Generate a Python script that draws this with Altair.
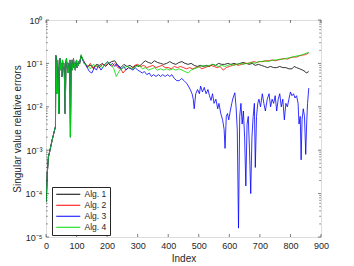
import altair as alt
import pandas as pd

# shared beginning (all four algorithms coincide)
early_idx = [1, 4, 8, 13, 20, 28, 31, 32, 33, 35, 36, 38, 40, 42, 44, 46, 48, 50, 52, 54, 56, 58, 60, 63,
             65, 67, 69, 71, 73, 75, 78, 80, 82, 84, 86, 88, 90, 92, 94, 96, 98, 100, 102, 104, 106, 108,
             110, 112]
early_val = [6.5e-5, 2.9e-4, 7e-4, 1e-3, 1.7e-3, 2.9e-3, 3.5e-3, 0.15, 0.15, 0.02, 0.1, 0.12, 0.05, 0.007,
             0.08, 0.13, 0.07, 0.1, 0.05, 0.12, 0.08, 0.1, 0.06, 0.007, 0.1, 0.13, 0.08, 0.1, 0.06, 0.09,
             0.12, 0.002, 0.1, 0.12, 0.07, 0.1, 0.13, 0.08, 0.1, 0.07, 0.1, 0.12, 0.08, 0.1, 0.09, 0.11,
             0.1, 0.12]

alg1_idx = [115, 125, 135, 145, 155, 165, 175, 185, 195, 205, 215, 225, 235, 245, 255, 265, 275, 285, 295,
            305, 315, 325, 335, 345, 355, 365, 375, 385, 395, 405, 415, 425, 435, 445, 455, 465, 475, 485,
            495, 505, 515, 525, 535, 545, 555, 565, 575, 585, 595, 605, 615, 625, 635, 645, 655, 665, 675,
            685, 695, 705, 715, 725, 735, 745, 755, 765, 775, 785, 795, 805, 812, 820, 830, 840, 848, 852, 860]
alg1_val = [0.15, 0.1, 0.085, 0.09, 0.08, 0.095, 0.09, 0.1, 0.085, 0.1, 0.11, 0.115, 0.09, 0.08, 0.095,
            0.085, 0.09, 0.08, 0.09, 0.085, 0.1, 0.115, 0.105, 0.1, 0.115, 0.105, 0.1, 0.095, 0.1, 0.11,
            0.1, 0.095, 0.105, 0.11, 0.1, 0.095, 0.1, 0.09, 0.085, 0.09, 0.085, 0.09, 0.085, 0.095, 0.09,
            0.1, 0.095, 0.095, 0.1, 0.095, 0.1, 0.095, 0.1, 0.105, 0.1, 0.095, 0.1, 0.09, 0.095, 0.09,
            0.085, 0.08, 0.085, 0.08, 0.08, 0.085, 0.08, 0.08, 0.075, 0.075, 0.085, 0.08, 0.075, 0.07,
            0.065, 0.06, 0.065]

alg2_idx = [115, 125, 135, 145, 155, 165, 175, 185, 195, 205, 215, 225, 235, 245, 252, 260, 270, 280, 290,
            300, 310, 320, 330, 340, 350, 360, 370, 380, 390, 400, 410, 420, 430, 440, 450, 460, 470, 480,
            490, 500, 510, 520, 530, 540, 550, 560, 570, 580, 590, 600, 610, 620, 630, 640, 650, 660, 670,
            680, 690, 700, 710, 720, 730, 740, 750, 760, 770, 780, 790, 800, 810, 820, 830, 840, 850, 860]
alg2_val = [0.15, 0.11, 0.08, 0.1, 0.075, 0.09, 0.08, 0.095, 0.09, 0.1, 0.085, 0.1, 0.08, 0.075, 0.06,
            0.07, 0.08, 0.075, 0.09, 0.095, 0.085, 0.09, 0.08, 0.085, 0.09, 0.08, 0.085, 0.09, 0.08, 0.08,
            0.075, 0.085, 0.08, 0.085, 0.08, 0.075, 0.08, 0.075, 0.08, 0.085, 0.075, 0.08, 0.085, 0.09,
            0.085, 0.08, 0.085, 0.07, 0.08, 0.085, 0.09, 0.095, 0.09, 0.095, 0.1, 0.1, 0.105, 0.11, 0.105,
            0.11, 0.11, 0.115, 0.115, 0.12, 0.115, 0.12, 0.125, 0.13, 0.125, 0.135, 0.14, 0.14, 0.15,
            0.155, 0.16, 0.175]

alg3_idx = [115, 120, 128, 135, 142, 150, 158, 165, 172, 180, 188, 195, 202, 210, 218, 225, 232, 240, 248,
            255, 262, 270, 278, 285, 292, 300, 308, 315, 322, 330, 338, 345, 352, 360, 368, 375, 382, 390,
            398, 405, 412, 420, 428, 436, 444, 452, 460, 466, 472, 478, 482, 485, 490, 496, 502, 506, 512,
            518, 524, 530, 535, 540, 545, 550, 556, 562, 566, 572, 578, 583, 586, 590, 594, 598, 603, 608,
            612, 618, 622, 626, 630, 634, 638, 642, 646, 650, 654, 658, 662, 666, 670, 674, 678, 682, 685,
            689, 693, 697, 702, 708, 713, 718, 724, 730, 735, 740, 745, 750, 755, 760, 765, 770, 775, 780,
            785, 790, 795, 800, 805, 810, 815, 820, 825, 828, 832, 835, 838, 842, 846, 850, 853, 856, 860]
alg3_val = [0.15, 0.12, 0.1, 0.08, 0.065, 0.06, 0.08, 0.07, 0.09, 0.07, 0.085, 0.1, 0.11, 0.09, 0.1,
            0.085, 0.095, 0.08, 0.075, 0.085, 0.07, 0.08, 0.075, 0.07, 0.08, 0.07, 0.065, 0.06, 0.065,
            0.055, 0.06, 0.05, 0.055, 0.05, 0.055, 0.05, 0.055, 0.05, 0.055, 0.05, 0.055, 0.045, 0.04,
            0.04, 0.045, 0.04, 0.035, 0.03, 0.025, 0.02, 0.015, 0.009, 0.02, 0.025, 0.02, 0.03, 0.022,
            0.028, 0.02, 0.025, 0.018, 0.014, 0.02, 0.012, 0.015, 0.009, 0.012, 0.007, 0.005, 0.003,
            0.0011, 0.006, 0.007, 0.005, 0.008, 0.012, 0.016, 0.021, 0.01, 0.003, 1.6e-5, 0.006, 0.012,
            0.004, 0.008, 0.002, 1.5e-4, 0.004, 0.006, 0.001, 1e-4, 0.002, 0.006, 0.012, 4e-4, 0.006,
            0.012, 0.015, 0.01, 0.02, 0.012, 0.008, 0.015, 0.02, 0.01, 0.015, 0.012, 0.018, 0.008, 0.015,
            0.02, 0.01, 0.015, 0.005, 0.012, 0.01, 0.015, 0.022, 0.018, 0.02, 0.016, 0.018, 0.012, 0.004,
            0.006, 6e-4, 0.005, 0.009, 0.006, 8e-4, 0.004, 0.012, 0.027]

alg4_idx = [115, 125, 135, 145, 155, 165, 175, 185, 195, 205, 215, 222, 230, 236, 245, 255, 265, 275, 285,
            295, 305, 315, 325, 335, 345, 355, 365, 375, 385, 395, 405, 415, 425, 435, 445, 455, 465, 475,
            485, 495, 505, 515, 525, 535, 545, 555, 565, 575, 585, 595, 605, 615, 625, 635, 645, 655, 665,
            675, 685, 695, 705, 715, 725, 735, 745, 755, 765, 775, 785, 795, 805, 815, 825, 835, 845, 855, 860]
alg4_val = [0.16, 0.1, 0.09, 0.075, 0.095, 0.085, 0.09, 0.08, 0.1, 0.105, 0.09, 0.075, 0.05, 0.06, 0.075,
            0.08, 0.085, 0.08, 0.075, 0.085, 0.09, 0.075, 0.08, 0.07, 0.075, 0.08, 0.07, 0.075, 0.07, 0.075,
            0.07, 0.075, 0.07, 0.075, 0.07, 0.065, 0.06, 0.07, 0.075, 0.08, 0.085, 0.09, 0.085, 0.09, 0.095,
            0.09, 0.085, 0.09, 0.085, 0.09, 0.095, 0.09, 0.095, 0.1, 0.095, 0.1, 0.1, 0.105, 0.1, 0.11,
            0.11, 0.115, 0.11, 0.115, 0.12, 0.12, 0.125, 0.125, 0.13, 0.135, 0.14, 0.145, 0.15, 0.155,
            0.165, 0.175, 0.18]

series_names = ["Alg. 1", "Alg. 2", "Alg. 3", "Alg. 4"]
series_colors = ["#000000", "#ff0000", "#0000ff", "#00dd00"]
x_ticks = [0, 100, 200, 300, 400, 500, 600, 700, 800, 900]
y_ticks = [1e-5, 1e-4, 1e-3, 1e-2, 1e-1, 1]
y_minor = [m * d for d in [1e-5, 1e-4, 1e-3, 1e-2, 1e-1] for m in range(2, 10)]

rows = []
for name, ix, vv in zip(series_names,
                        [alg1_idx, alg2_idx, alg3_idx, alg4_idx],
                        [alg1_val, alg2_val, alg3_val, alg4_val]):
    for i, v in zip(early_idx + ix, early_val + vv):
        rows.append({"Index": i, "err": v, "alg": name})
df = pd.DataFrame(rows)

W, H = 275, 217
FONT = "Liberation Sans"
GREY = "#262626"

xs = alt.Scale(domain=[0, 900], nice=False)
ys = alt.Scale(type="log", domain=[1e-5, 1], nice=False)
cs = alt.Scale(domain=series_names, range=series_colors)

label_expr = ("datum.value >= 1 ? '10⁰' : datum.value >= 0.1 ? '10⁻¹' : datum.value >= 0.01 ? '10⁻²' : "
              "datum.value >= 0.001 ? '10⁻³' : datum.value >= 0.0001 ? '10⁻⁴' : '10⁻⁵'")

common = dict(grid=False, ticks=False, domain=False, labelFont=FONT, titleFont=FONT,
              labelFontSize=9, titleFontSize=10, labelColor=GREY, titleColor=GREY,
              labelFontWeight="normal", titleFontWeight="normal", labelOverlap=False,
              labelFlush=False)
x_axis = alt.Axis(values=x_ticks, title="Index", labelPadding=4, titleY=21,
                  titleBaseline="middle", **common)
y_axis = alt.Axis(values=y_ticks, labelExpr=label_expr, title="Singular value relative errors",
                  labelPadding=4, titleX=-29, titleY=H / 2, titleBaseline="middle", **common)
legend = alt.Legend(title=None, orient="none", legendX=6, legendY=167,
                    symbolType="M-1,0L7,0", symbolSize=36, symbolStrokeWidth=1,
                    labelFontSize=8.5, labelFont=FONT, labelColor=GREY, labelFontWeight="normal",
                    strokeColor=GREY, fillColor="white", padding=3,
                    rowPadding=2, labelOffset=21)

layers = []
for k, name in enumerate(series_names):
    col = alt.Color("alg:N", scale=cs, legend=legend) if k == 0 else alt.Color("alg:N", scale=cs)
    layers.append(
        alt.Chart(df).transform_filter(alt.datum.alg == name)
        .mark_line(strokeWidth=0.8, clip=True).encode(
            x=alt.X("Index:Q", scale=xs, axis=x_axis),
            y=alt.Y("err:Q", scale=ys, axis=y_axis),
            color=col)
    )

tick_df = pd.DataFrame({"t": x_ticks})
ytick_df = pd.DataFrame({"t": y_ticks})
yminor_df = pd.DataFrame({"t": y_minor})

xt_bot = alt.Chart(tick_df).mark_rule(color=GREY, strokeWidth=0.6).encode(
    x=alt.X("t:Q", scale=xs, axis=x_axis), y=alt.value(H), y2=alt.value(H - 3))
xt_top = alt.Chart(tick_df).mark_rule(color=GREY, strokeWidth=0.6).encode(
    x=alt.X("t:Q", scale=xs, axis=x_axis), y=alt.value(0), y2=alt.value(3))
yt_l = alt.Chart(ytick_df).mark_rule(color=GREY, strokeWidth=0.6).encode(
    y=alt.Y("t:Q", scale=ys, axis=y_axis), x=alt.value(0), x2=alt.value(3))
yt_r = alt.Chart(ytick_df).mark_rule(color=GREY, strokeWidth=0.6).encode(
    y=alt.Y("t:Q", scale=ys, axis=y_axis), x=alt.value(W), x2=alt.value(W - 3))
ym_l = alt.Chart(yminor_df).mark_rule(color=GREY, strokeWidth=0.5).encode(
    y=alt.Y("t:Q", scale=ys, axis=y_axis), x=alt.value(0), x2=alt.value(1.8))
ym_r = alt.Chart(yminor_df).mark_rule(color=GREY, strokeWidth=0.5).encode(
    y=alt.Y("t:Q", scale=ys, axis=y_axis), x=alt.value(W), x2=alt.value(W - 1.8))

chart = alt.layer(*layers, xt_bot, xt_top, yt_l, yt_r, ym_l, ym_r).properties(
    width=W, height=H,
    autosize=alt.AutoSizeParams(type="none"),
    padding={"left": 38, "top": 12, "right": 25, "bottom": 30},
).configure_view(stroke=GREY, strokeWidth=0.8).configure(background="white")

chart.save("out.html", embed_options={"renderer": "svg", "actions": False})
